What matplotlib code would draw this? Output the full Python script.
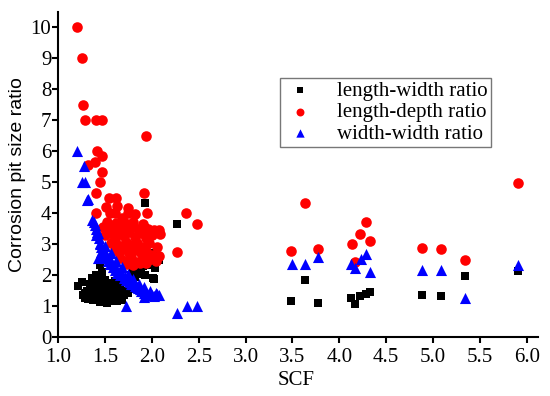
import numpy as np
import matplotlib
matplotlib.use("Agg")
import matplotlib.pyplot as plt

# length-width ratio (black squares)
lw_scf = [1.21, 1.25, 1.26, 1.28, 1.30, 1.32, 1.33, 1.35, 1.35, 1.37, 1.38, 1.40, 1.40, 1.40,
          1.42, 1.42, 1.43, 1.45, 1.45, 1.46, 1.46, 1.48, 1.48, 1.49, 1.50, 1.50, 1.51, 1.52,
          1.53, 1.54, 1.55, 1.55, 1.56, 1.57, 1.58, 1.58, 1.60, 1.60, 1.61, 1.62, 1.63, 1.64,
          1.65, 1.66, 1.67, 1.68, 1.70, 1.72, 1.74, 1.76, 1.44, 1.47, 1.36, 1.31, 1.29,
          1.34, 1.39, 1.44, 1.52, 1.57, 1.62, 1.68, 1.38, 1.48, 1.55,
          1.78, 1.80, 1.82, 1.84, 1.87, 1.88, 1.90, 1.93, 1.95, 1.96, 1.98, 2.01, 2.02, 2.03,
          2.03, 2.07, 2.05, 1.93, 1.93, 2.27,
          3.48, 3.63, 3.77, 4.13, 4.17, 4.22, 4.28, 4.33, 4.88, 5.09, 5.34, 5.91]
lw_val = [1.65, 1.79, 1.36, 1.25, 1.30, 1.22, 1.40, 1.28, 1.55, 1.20, 1.45, 1.30, 1.62, 2.00,
          1.18, 1.50, 1.75, 1.25, 1.40, 1.60, 1.95, 1.15, 1.32, 1.50, 1.70, 1.85, 1.22, 1.10,
          1.40, 1.58, 1.28, 1.75, 1.15, 1.45, 1.30, 1.62, 1.20, 1.50, 1.80, 1.38, 1.15, 1.55,
          1.28, 1.68, 1.42, 1.20, 1.35, 1.50, 1.42, 1.55, 2.33, 2.10, 1.90, 1.50, 1.42,
          1.70, 1.85, 1.12, 1.35, 1.22, 1.48, 1.32, 1.35, 1.25, 1.65,
          2.00, 2.20, 1.95, 2.22, 2.39, 2.05, 2.30, 2.00, 2.33, 2.65, 2.71, 1.91, 1.88, 2.22,
          2.49, 2.49, 2.60, 3.52, 4.33, 3.66,
          1.17, 1.84, 1.09, 1.25, 1.07, 1.33, 1.39, 1.46, 1.35, 1.32, 1.98, 2.13]

# length-depth ratio (red circles)
ld_scf = [1.20, 1.25, 1.26, 1.29, 1.40, 1.47, 1.94, 1.41, 1.47, 1.39, 1.32, 1.47, 1.44, 1.40,
          1.92, 1.54, 1.62, 1.40, 1.55, 1.60, 1.74, 1.82, 1.95, 1.51, 1.63, 1.74, 1.68,
          1.48, 1.52, 1.57, 1.62, 1.66, 1.70, 1.75, 1.80, 1.85, 1.90, 1.96, 2.02, 2.07,
          1.50, 1.55, 1.60, 1.65, 1.70, 1.76, 1.82, 1.88, 1.94, 2.00, 2.09,
          1.56, 1.61, 1.66, 1.72, 1.78, 1.84, 1.90, 1.97, 2.05,
          1.60, 1.65, 1.70, 1.76, 1.82, 1.88, 1.94, 2.00, 2.07,
          1.66, 1.72, 1.78, 1.84, 1.90, 1.96, 2.04, 1.73, 1.80, 1.87, 1.94,
          2.36, 2.48, 2.27,
          3.48, 3.63, 3.77, 4.14, 4.22, 4.28, 4.33, 4.17, 4.88, 5.09, 5.34, 5.91]
ld_val = [10.0, 9.0, 7.5, 7.0, 7.0, 7.0, 6.49, 6.0, 5.86, 5.66, 5.56, 5.32, 4.99, 4.65,
          4.65, 4.5, 4.5, 3.99, 4.0, 4.02, 4.0, 3.98, 4.0, 4.2, 4.22, 4.18, 3.85,
          3.55, 3.70, 3.50, 3.68, 3.52, 3.72, 3.55, 3.70, 3.50, 3.65, 3.48, 3.45, 3.47,
          3.30, 3.35, 3.20, 3.38, 3.25, 3.40, 3.22, 3.36, 3.20, 3.30, 3.33,
          3.05, 3.10, 2.95, 3.08, 2.98, 3.05, 2.92, 3.02, 2.90,
          2.80, 2.75, 2.85, 2.70, 2.82, 2.72, 2.78, 2.65, 2.60,
          2.55, 2.45, 2.58, 2.42, 2.55, 2.48, 2.47, 2.35, 2.32, 2.38, 2.40,
          3.99, 3.66, 2.76,
          2.77, 4.33, 2.85, 3.01, 3.33, 3.72, 3.09, 2.43, 2.86, 2.85, 2.49, 4.98]

# width-width ratio (blue triangles)
ww_scf = [1.20, 1.27, 1.28, 1.25, 1.32, 1.31,
          1.36, 1.38, 1.39, 1.40, 1.41, 1.40, 1.42, 1.43, 1.44, 1.45, 1.46, 1.42, 1.44, 1.46,
          1.48, 1.50, 1.50, 1.52, 1.53, 1.55, 1.55, 1.57, 1.58, 1.60, 1.60, 1.62, 1.63, 1.65,
          1.66, 1.68, 1.70, 1.71, 1.72, 1.74, 1.75, 1.77, 1.78, 1.80, 1.82, 1.84, 1.85, 1.87,
          1.88, 1.90, 1.91, 1.92, 1.94, 1.96, 1.98, 2.00, 2.02, 2.05, 2.07,
          1.50, 1.56, 1.62, 1.68, 1.74, 1.80, 1.86, 1.92, 1.98, 2.04,
          1.72, 2.27, 2.37, 2.48,
          3.49, 3.63, 3.77, 4.12, 4.17, 4.23, 4.28, 4.33, 4.88, 5.09, 5.34, 5.91]
ww_val = [6.02, 5.52, 5.01, 5.0, 4.47, 4.42,
          3.78, 3.70, 3.62, 3.50, 3.40, 3.30, 3.35, 3.20, 3.05, 3.00, 2.90, 2.55, 2.62, 2.75,
          2.80, 2.70, 2.55, 2.60, 2.45, 2.50, 2.35, 2.38, 2.25, 2.28, 2.15, 2.18, 2.08, 2.10,
          2.00, 2.02, 1.92, 1.95, 1.85, 1.88, 1.80, 1.78, 1.72, 1.70, 1.65, 1.62, 1.58, 1.55,
          1.50, 1.48, 1.42, 1.30, 1.40, 1.36, 1.38, 1.35, 1.33, 1.38, 1.35,
          2.95, 2.70, 2.45, 2.25, 2.05, 1.88, 1.72, 1.60, 1.50, 1.42,
          1.00, 0.77, 1.00, 1.00,
          2.37, 2.35, 2.58, 2.37, 2.22, 2.53, 2.67, 2.11, 2.16, 2.16, 1.26, 2.34]

fig = plt.figure(figsize=(5.5, 3.96), dpi=100)
ax = fig.add_axes([0.106, 0.149, 0.872, 0.821])

ax.scatter(lw_scf, lw_val, marker="s", s=34, c="black", linewidths=0, label="length-width ratio")
ax.scatter(ld_scf, ld_val, marker="o", s=58, c="#ff0000", linewidths=0, label="length-depth ratio")
ax.scatter(ww_scf, ww_val, marker="^", s=64, c="#0000ff", linewidths=0, label="width-width ratio")

ax.set_xlim(1.0, 6.12)
ax.set_ylim(0, 10.5)
ax.set_xticks(np.arange(1.0, 6.01, 0.5))
ax.set_xticklabels(["%.1f" % v for v in np.arange(1.0, 6.01, 0.5)])
ax.set_yticks(range(0, 11))
for sp in ["top", "right"]:
    ax.spines[sp].set_visible(False)
for sp in ["left", "bottom"]:
    ax.spines[sp].set_linewidth(1.5)
ax.tick_params(direction="out", width=1.5, length=4, labelsize=15)
ax.tick_params(axis="x", pad=4)
ax.tick_params(axis="y", pad=1)
for lab in ax.get_xticklabels() + ax.get_yticklabels():
    lab.set_family("Liberation Serif")

ax.set_xlabel("SCF", family="Liberation Serif", fontsize=15)
ax.xaxis.set_label_coords(0.496, -0.105)
ax.set_ylabel("Corrosion pit size ratio", family="Liberation Sans", fontsize=14)
ax.yaxis.set_label_coords(-0.068, 0.5)

leg = ax.legend(loc="upper left", bbox_to_anchor=(0.4625, 0.797), fancybox=False,
                prop={"family": "Liberation Serif", "size": 15}, markerscale=0.75,
                handletextpad=1.0, borderpad=0.15, labelspacing=0.1, handlelength=1.6,
                borderaxespad=0)
leg.get_frame().set_edgecolor("#555555")
leg.get_frame().set_linewidth(1.0)

fig.savefig("out.png", dpi=100)
